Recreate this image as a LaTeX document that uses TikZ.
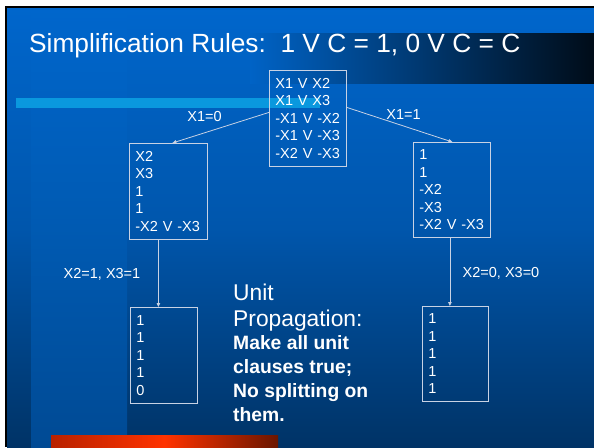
\documentclass[tikz,border=0pt]{standalone}
\usepackage{fontspec}
\setmainfont{Liberation Sans}
\usetikzlibrary{arrows.meta}
\definecolor{bgtop}{HTML}{0066CC}
\definecolor{bgmid}{HTML}{0056AC}
\definecolor{bgbot}{HTML}{003366}
\definecolor{bandl}{HTML}{0063C6}
\definecolor{pnlbot}{HTML}{004A94}
\definecolor{pnlmid}{HTML}{005AB2}
\definecolor{bandr}{HTML}{000C18}
\definecolor{cyanbar}{HTML}{0A98DE}
\definecolor{redl}{HTML}{B82200}
\definecolor{redm}{HTML}{FF3300}
\definecolor{redr}{HTML}{6A1600}
\definecolor{boxc}{HTML}{C8D2E4}
\begin{document}
\begin{tikzpicture}[x=1pt,y=-1pt,
  clause/.style={draw=boxc, line width=0.8pt, anchor=north west, inner xsep=6pt, inner ysep=0pt,
    minimum height=96pt, align=left, text=white, font=\fontsize{14.5}{17.5}\selectfont},
  lbl/.style={text=white, inner sep=0pt, font=\fontsize{14.5}{17.5}\selectfont},
  bigtxt/.style={anchor=base west, inner sep=0pt, text=white, font=\fontsize{22.8}{26}\selectfont},
  boldtxt/.style={anchor=base west, inner sep=0pt, text=white, font=\fontsize{19.3}{24}\selectfont\bfseries},
  conn/.style={draw=boxc, line width=0.8pt, -{Triangle[length=4pt,width=3.5pt]}}]
\useasboundingbox (0,0) rectangle (594,447);
% background
\fill[white] (0,0) rectangle (594,447);
\fill[black] (5,6) rectangle (594,447);
\shade[top color=bgtop, bottom color=bgbot, middle color=bgmid] (7,8) rectangle (594,447);
\shade[top color=bgtop, bottom color=pnlbot, middle color=pnlmid] (31,8) rectangle (127,447);
\shade[left color=bandl, right color=bandr] (250,33) rectangle (594,83);
\fill[cyanbar] (16,98) rectangle (320,108);
\shade[left color=redl, right color=redr, middle color=redm] (51,435) rectangle (278,447);
% title
\node[anchor=base west, inner sep=0pt, text=white, font=\fontsize{26.3}{30}\selectfont] (title) at (29,52.5)
  {Simplification Rules:\ \ 1 V C = 1, 0 V C = C};
% boxes
\node[clause, text width=65pt] (root) at (269,70) {X1 V X2\\X1 V X3\\-X1 V -X2\\-X1 V -X3\\-X2 V -X3};
\node[clause, text width=66pt] (lb) at (129,143) {X2\\X3\\1\\1\\-X2 V -X3};
\node[clause, text width=65pt, minimum height=95pt] (rb) at (413,142) {1\\1\\-X2\\-X3\\-X2 V -X3};
\node[clause, text width=55pt] (ll) at (130,307) {1\\1\\1\\1\\0};
\node[clause, text width=54pt, minimum height=95pt] (lr) at (422,306) {1\\1\\1\\1\\1};
% connectors
\draw[conn] ([yshift=6pt]root.west) -- ([xshift=4pt]lb.north);
\draw[conn] ([yshift=11pt]root.east) -- ([xshift=0.5pt]rb.north);
\draw[conn] ([xshift=-10pt]lb.south) -- ([xshift=-10pt]lb.south |- ll.north);
\draw[conn] ([xshift=-2pt]rb.south) -- ([xshift=-2pt]rb.south |- lr.north);
% labels
\node[lbl] (l0) at (204.5,117) {X1=0};
\node[lbl] (l1) at (403.5,115) {X1=1};
\node[lbl] (l2) at (102,274) {X2=1, X3=1};
\node[lbl] (l3) at (501,273) {X2=0, X3=0};
% unit propagation text
\node[bigtxt] (unit) at (233,300) {Unit};
\node[bigtxt] (prop) at (233,326) {Propagation:};
\node[boldtxt] (m1) at (233,349) {Make all unit};
\node[boldtxt] (m2) at (233,373) {clauses true;};
\node[boldtxt] (m3) at (233,397) {No splitting on};
\node[boldtxt] (m4) at (233,421) {them.};
\end{tikzpicture}
\end{document}
